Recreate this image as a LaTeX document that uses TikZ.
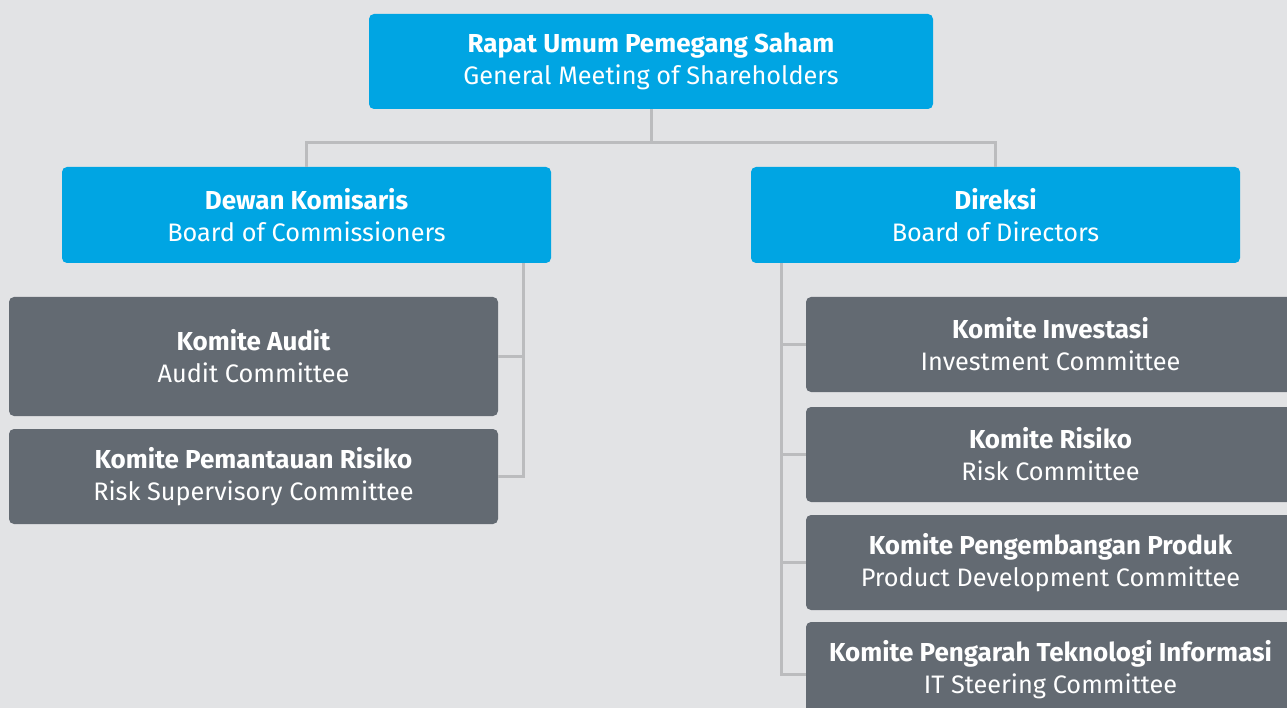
\documentclass[tikz,border=0pt]{standalone}
\usepackage{fontspec}
\setmainfont{Fira Sans}
\usepackage{tikz}
\definecolor{bgcol}{HTML}{E2E3E5}
\definecolor{bluebox}{HTML}{00A5E3}
\definecolor{greybox}{HTML}{636A72}
\definecolor{linkcol}{HTML}{BBBCBE}
\newcommand{\orglabel}[2]{{\fontsize{26}{32}\selectfont\bfseries #1}\\{\fontsize{25.3}{32}\selectfont #2}}
\tikzset{
  orgbox/.style={fill=bluebox, text=white, rounded corners=5pt, inner sep=0pt,
    minimum width=489pt, minimum height=96pt, align=center,
    font=\fontsize{25}{32}\selectfont},
  combox/.style={orgbox, fill=greybox, minimum height=95pt},
  link/.style={linkcol, line width=3pt}
}
\begin{document}
\begin{tikzpicture}[x=1pt, y=-1pt]
\useasboundingbox (0,0) rectangle (1287,708);
\fill[bgcol] (0,0) rectangle (1287,708);
% top level
\node[orgbox, minimum width=564pt, minimum height=95pt] (rups) at (651,61.5)
  {\orglabel{Rapat Umum Pemegang Saham}{General Meeting of Shareholders}};
\node[orgbox] (dk) at (306.5,215) {\orglabel{Dewan Komisaris}{Board of Commissioners}};
\node[orgbox] (dir) at (995.5,215) {\orglabel{Direksi}{Board of Directors}};
% committees of the board of commissioners
\node[combox, minimum height=119pt] (audit) at (253.5,356.5) {\orglabel{Komite Audit}{Audit Committee}};
\node[combox] (rpr) at (253.5,476.5) {\orglabel{Komite Pemantauan Risiko}{Risk Supervisory Committee}};
% committees of the board of directors
\node[combox] (inv) at (1050.5,344.5) {\orglabel{Komite Investasi}{Investment Committee}};
\node[combox] (ris) at (1050.5,454.5) {\orglabel{Komite Risiko}{Risk Committee}};
\node[combox] (prod) at (1050.5,562.5) {\orglabel{Komite Pengembangan Produk}{Product Development Committee}};
\node[combox] (it) at (1050.5,669.5) {\orglabel{Komite Pengarah Teknologi Informasi}{IT Steering Committee}};
% connectors
\coordinate (top) at (651,143);
\coordinate (lb) at (523,0);
\coordinate (rb) at (781,0);
\draw[link] (rups.south) -- (top);
\draw[link] (dk.north) |- (top) -| (dir.north);
\draw[link] (rpr.east) -| (lb |- dk.south);
\draw[link] (audit.east) -- (audit.east -| lb);
\draw[link] (rb |- dir.south) |- ([yshift=-4.5pt]it.west);
\foreach \c in {inv, ris, prod}
  \draw[link] (\c.west) -- (\c.west -| rb);
\end{tikzpicture}
\end{document}
